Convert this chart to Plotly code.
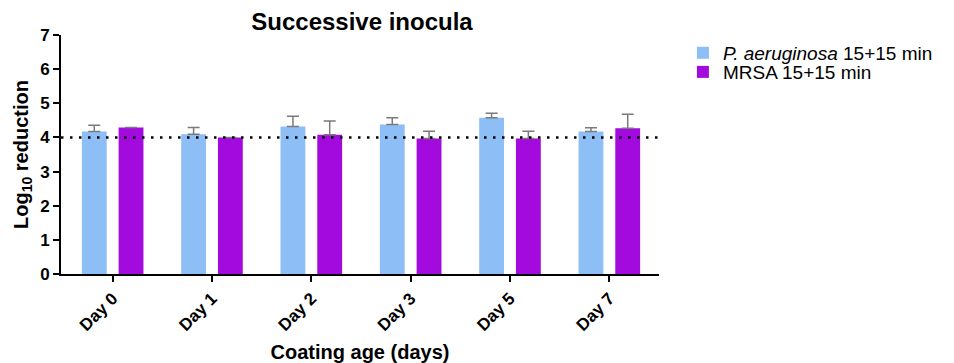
import plotly.graph_objects as go

days = ["Day 0", "Day 1", "Day 2", "Day 3", "Day 5", "Day 7"]
pa_values = [4.17, 4.09, 4.32, 4.38, 4.58, 4.17]
pa_errors = [0.19, 0.20, 0.30, 0.20, 0.13, 0.11]
mrsa_values = [4.29, 4.00, 4.08, 3.97, 3.97, 4.27]
mrsa_errors = [0.0, 0.0, 0.40, 0.21, 0.21, 0.41]
y_ticks = [0, 1, 2, 3, 4, 5, 6, 7]
threshold = 4

font = "Liberation Sans, Arial, sans-serif"

fig = go.Figure()
fig.add_trace(go.Bar(
    x=days, y=pa_values, name="<i>P. aeruginosa</i> 15+15 min",
    marker=dict(color="#8DBEF5", line=dict(width=0)),
    width=0.25, offset=-0.31, legend="legend",
    error_y=dict(type="data", array=pa_errors, arrayminus=[0]*len(pa_errors), symmetric=False,
                 color="#7a7a7a", thickness=1.5, width=6),
))
fig.add_trace(go.Bar(
    x=days, y=mrsa_values, name="MRSA 15+15 min",
    marker=dict(color="#A30ADD", line=dict(width=0)),
    width=0.25, offset=0.06, legend="legend2",
    error_y=dict(type="data", array=mrsa_errors, arrayminus=[0]*len(mrsa_errors), symmetric=False,
                 color="#7a7a7a", thickness=1.5, width=6),
))

fig.add_shape(type="line", xref="paper", x0=0, x1=1, yref="y", y0=threshold, y1=threshold,
              line=dict(color="black", width=2.5, dash="2.5px,6.5px"), layer="above")

legend_style = dict(xanchor="left", yanchor="middle", font=dict(size=19, family=font),
                    bgcolor="rgba(0,0,0,0)")

fig.update_layout(
    width=954, height=363,
    margin=dict(l=61, r=295, t=35, b=89),
    paper_bgcolor="white", plot_bgcolor="white",
    font=dict(family=font, color="black"),
    title=dict(text="<b>Successive inocula</b>", x=362/954, xanchor="center",
               y=1 - 22/363, yanchor="middle", font=dict(size=24, family=font)),
    barmode="group",
    showlegend=True,
    legend=dict(x=1.04, y=0.925, **legend_style),
    legend2=dict(x=1.04, y=0.845, **legend_style),
    xaxis=dict(
        range=[-0.52, 5.5], showline=True, linecolor="black", linewidth=2,
        ticks="outside", ticklen=6, tickwidth=2, tickcolor="black",
        tickangle=-45, tickfont=dict(size=17, family=font, weight="bold"),
        title=dict(text="<b>Coating age (days)</b>", font=dict(size=20, family=font), standoff=12),
        showgrid=False, zeroline=False, automargin=False,
    ),
    yaxis=dict(
        range=[0, 7], tickvals=y_ticks, showline=True, linecolor="black", linewidth=2,
        ticks="outside", ticklen=6, tickwidth=2, tickcolor="black",
        tickfont=dict(size=17, family=font, weight="bold"),
        title=dict(text="<b>Log<sub>10</sub> reduction</b>", font=dict(size=20, family=font), standoff=6),
        showgrid=False, zeroline=False, automargin=False,
    ),
)

fig.write_html("out.html")
